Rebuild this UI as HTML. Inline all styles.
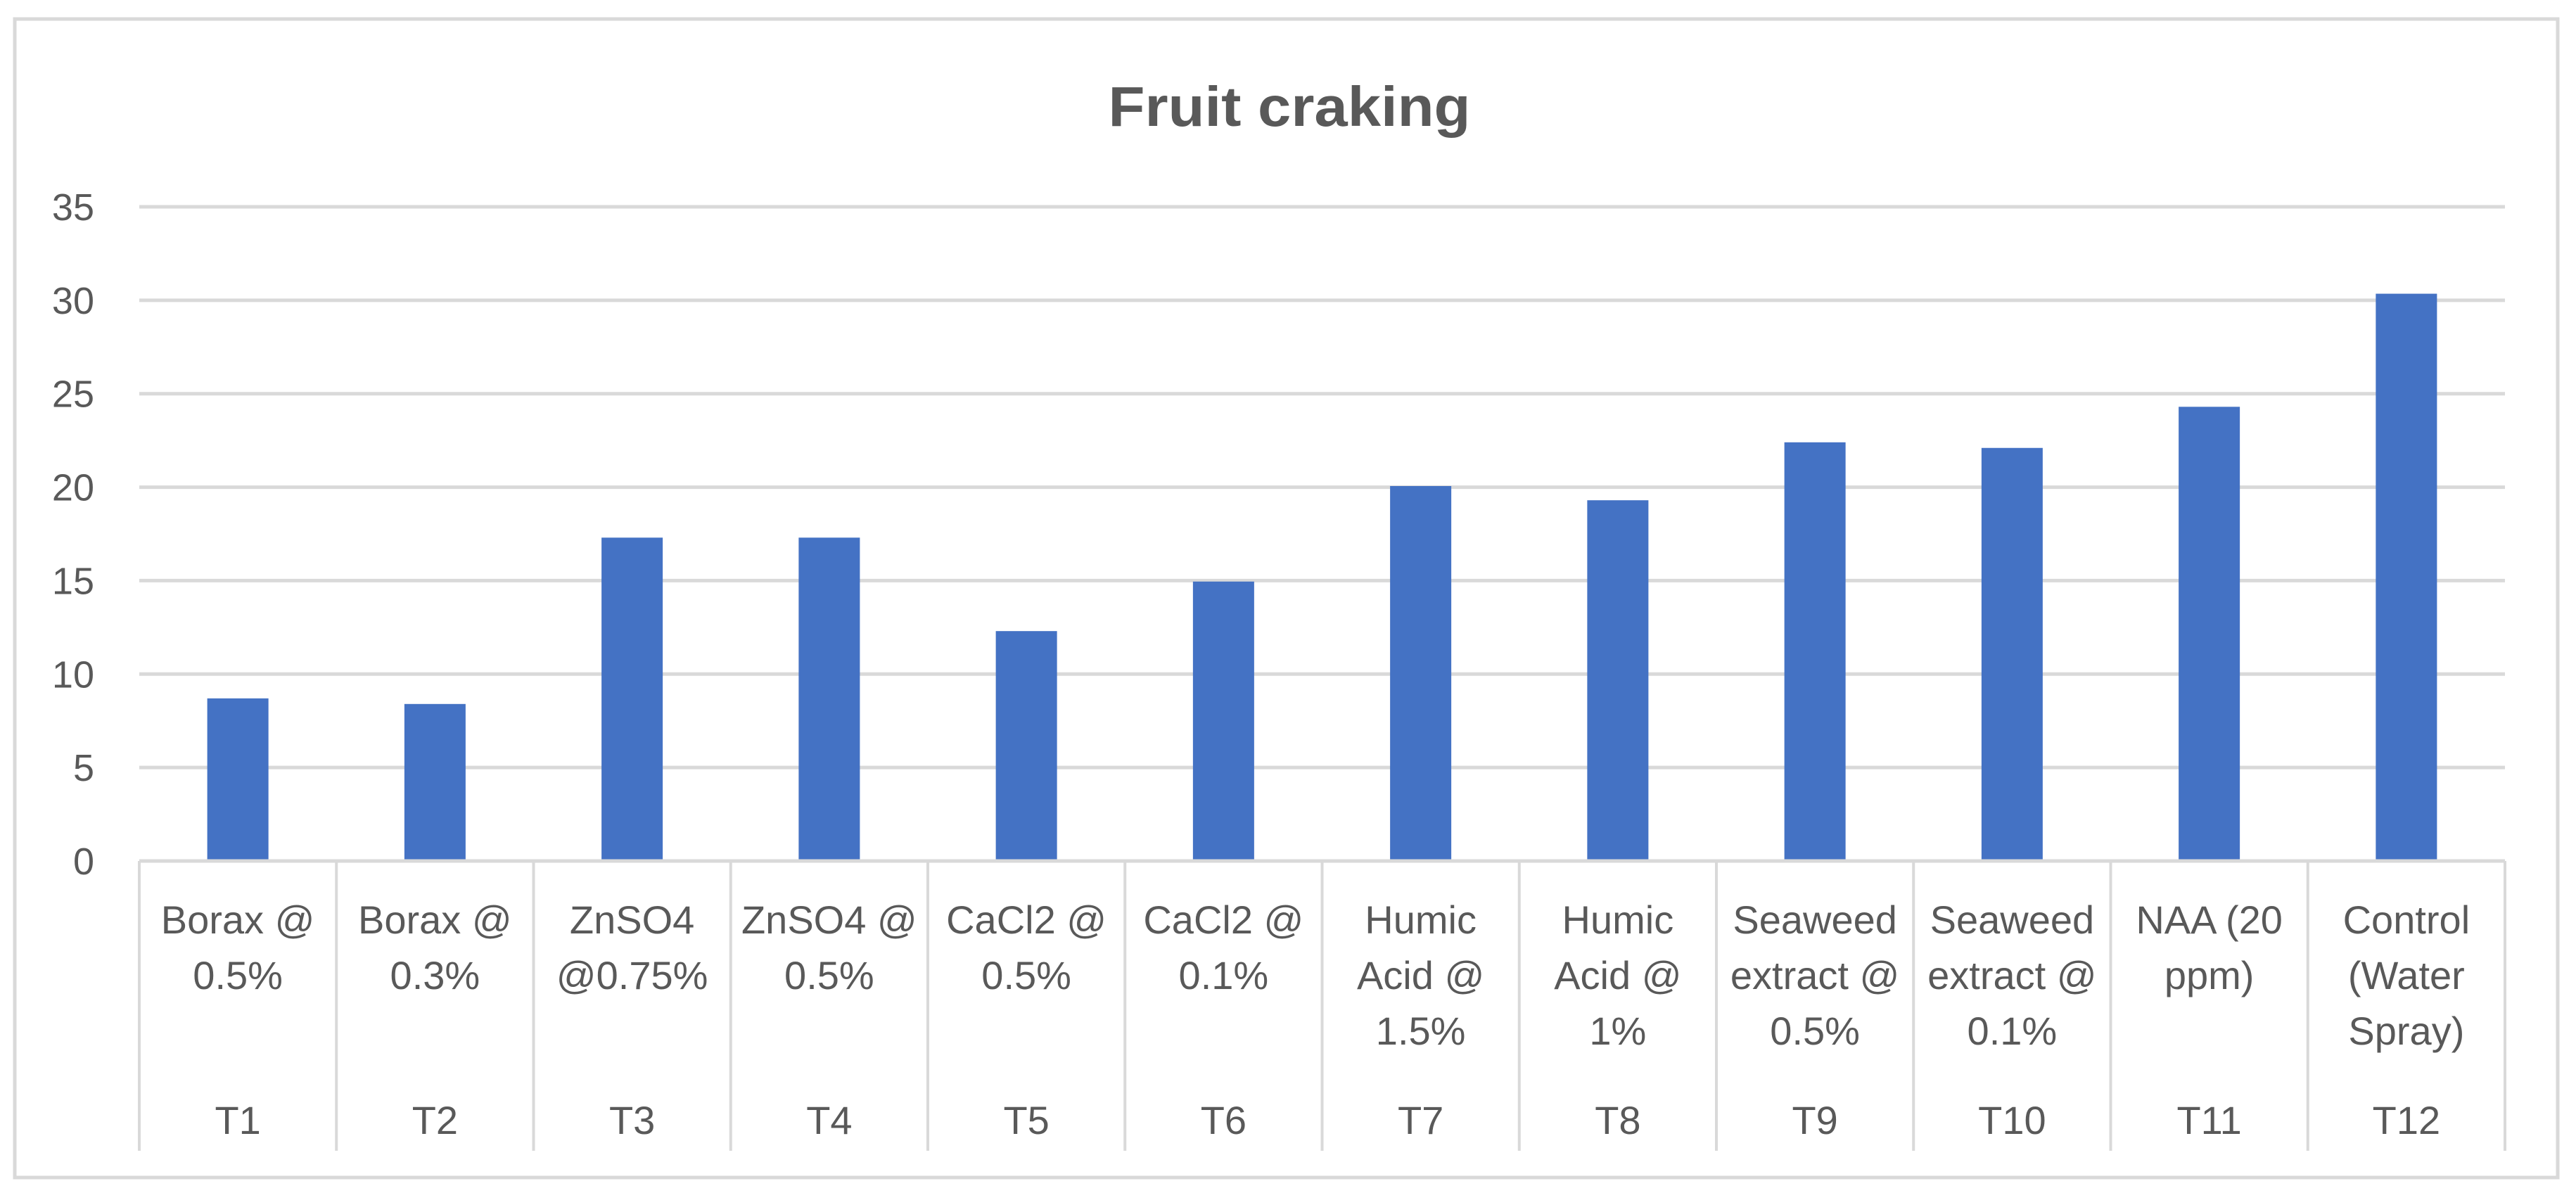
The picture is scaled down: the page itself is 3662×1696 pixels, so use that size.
<!DOCTYPE html>
<html><head><meta charset="utf-8"><style>
html,body{margin:0;padding:0;background:#fff;}
svg{display:block;font-family:"Liberation Sans Narrow","Liberation Sans",sans-serif;}
</style></head><body>
<svg id="chart" width="3662" height="1696" viewBox="0 0 3662 1696">
<rect x="21" y="27" width="3615" height="1647" fill="#fff" stroke="#d9d9d9" stroke-width="5"/>
<text x="1833" y="179" text-anchor="middle" font-family="Liberation Sans, sans-serif" font-weight="bold" font-size="80" fill="#595959" textLength="515" lengthAdjust="spacingAndGlyphs">Fruit craking</text>
<g id="grid"></g><g id="bars"></g><g id="xaxis"></g><g id="yticks"></g>
</svg>
<script>
const categories=[["Borax @","0.5%"],["Borax @","0.3%"],["ZnSO4","@0.75%"],["ZnSO4 @","0.5%"],["CaCl2 @","0.5%"],["CaCl2 @","0.1%"],["Humic","Acid @","1.5%"],["Humic","Acid @","1%"],["Seaweed","extract @","0.5%"],["Seaweed","extract @","0.1%"],["NAA (20","ppm)"],["Control","(Water","Spray)"]];
const groups=["T1","T2","T3","T4","T5","T6","T7","T8","T9","T10","T11","T12"];
const values=[8.7,8.4,17.3,17.3,12.3,14.95,20.06,19.3,22.4,22.1,24.3,30.35];
const yTicks=[0,5,10,15,20,25,30,35];
const NS="http://www.w3.org/2000/svg";
const L=198,R=3561,Y0=1224,Y35=294;
const y=v=>Y0-(v/35)*(Y0-Y35);
const cw=(R-L)/values.length;
const x=i=>L+cw*(i+0.5);
function mk(tag,attrs,parent){const e=document.createElementNS(NS,tag);for(const k in attrs)e.setAttribute(k,attrs[k]);parent.appendChild(e);return e;}
const grid=document.getElementById('grid'),bars=document.getElementById('bars'),xa=document.getElementById('xaxis'),yt=document.getElementById('yticks');
yTicks.forEach(t=>{
 if(t>0){const g=mk('line',{x1:L,x2:R,y1:y(t),y2:y(t),stroke:'#d9d9d9','stroke-width':5},grid);
 
 }
 const tx=mk('text',{x:134,y:y(t)+19,'text-anchor':'end','font-size':54,fill:'#595959'},yt);
 tx.textContent=t;
 
 
});
values.forEach((v,i)=>{
 const b=mk('rect',{x:x(i)-43.5,y:y(v),width:87,height:Y0-y(v),fill:'#4472c4'},bars);
 
 
});
const ax=mk('line',{x1:L,x2:R,y1:Y0,y2:Y0,stroke:'#d9d9d9','stroke-width':5},xa);


for(let i=0;i<=values.length;i++){
 const d=mk('line',{x1:L+cw*i,x2:L+cw*i,y1:Y0,y2:1636,stroke:'#d9d9d9','stroke-width':4},xa);
 
 
}
categories.forEach((c,i)=>{
 c.forEach((line,j)=>{
  const t=mk('text',{x:x(i),y:1327+j*79,'text-anchor':'middle','font-size':56,fill:'#595959'},xa);
  t.textContent=line;
  
  
 });
 const g=mk('text',{x:x(i),y:1612,'text-anchor':'middle','font-size':56,fill:'#595959'},xa);
 g.textContent=groups[i];
 
 
});
</script>
</body></html>
